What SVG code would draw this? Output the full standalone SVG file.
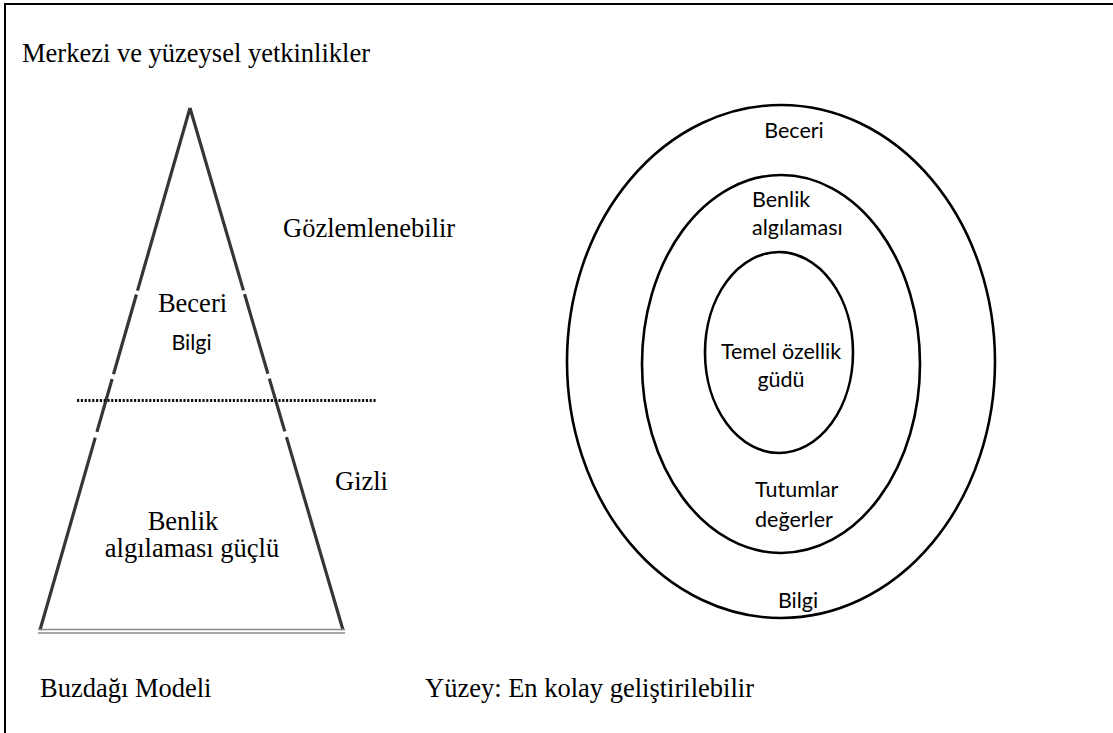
<svg xmlns="http://www.w3.org/2000/svg" width="1113" height="733" viewBox="0 0 1113 733">
<style>
.serif{font-family:"Liberation Serif","Times New Roman",serif;font-size:26.5px;fill:#000}
.sans{font-family:Lato,"Liberation Sans",sans-serif;font-size:21.5px;fill:#000}
.tri{stroke:#363636;stroke-width:3.2;fill:none}
.ell{stroke:#000;stroke-width:2.6;fill:none}
</style>
<rect width="1113" height="733" fill="#fff"/>
<g id="frame">
<line x1="4" y1="4" x2="1113" y2="4" stroke="#000" stroke-width="2"/>
<line x1="5" y1="3" x2="5" y2="733" stroke="#000" stroke-width="2"/>
</g>
<text class="serif" x="22" y="62">Merkezi ve yüzeysel yetkinlikler</text>
<g id="iceberg">
<line class="tri" x1="190" y1="108" x2="40" y2="630" stroke-dasharray="190 4 83 5 55 6 1000"/>
<line class="tri" x1="190" y1="108" x2="343" y2="630" stroke-dasharray="190 4 83 5 55 6 1000"/>
<line x1="38" y1="629.5" x2="345" y2="629.5" stroke="#8a8a8a" stroke-width="1.4"/>
<line x1="38" y1="633" x2="345" y2="633" stroke="#8a8a8a" stroke-width="1.4"/>
<line x1="77" y1="400.5" x2="377" y2="400.5" stroke="#111" stroke-width="3" stroke-dasharray="2.2 1.6"/>
</g>
<g id="iceberg-labels">
<text class="serif" x="192.5" y="312" text-anchor="middle">Beceri</text>
<text class="sans" x="191.5" y="350" text-anchor="middle">Bilgi</text>
<text class="serif" x="183" y="530" text-anchor="middle">Benlik</text>
<text class="serif" x="192" y="557" text-anchor="middle">algılaması güçlü</text>
<text class="serif" x="283" y="237">Gözlemlenebilir</text>
<text class="serif" x="335" y="490">Gizli</text>
</g>
<g id="outer-ring">
<ellipse class="ell" cx="781" cy="361.5" rx="214" ry="256.5"/>
<text class="sans" x="794" y="138" text-anchor="middle">Beceri</text>
<text class="sans" x="798" y="608" text-anchor="middle">Bilgi</text>
</g>
<g id="middle-ring">
<ellipse class="ell" cx="781" cy="364" rx="139" ry="189"/>
<text class="sans" x="752" y="207">Benlik</text>
<text class="sans" x="752" y="235">algılaması</text>
<text class="sans" x="755" y="497">Tutumlar</text>
<text class="sans" x="755" y="527">değerler</text>
</g>
<g id="inner-ring">
<ellipse class="ell" cx="779" cy="352.5" rx="74" ry="100.5"/>
<text class="sans" x="781" y="359" text-anchor="middle">Temel özellik</text>
<text class="sans" x="781" y="387" text-anchor="middle">güdü</text>
</g>
<text class="serif" x="40" y="697">Buzdağı Modeli</text>
<text class="serif" x="425" y="697">Yüzey: En kolay geliştirilebilir</text>
</svg>
